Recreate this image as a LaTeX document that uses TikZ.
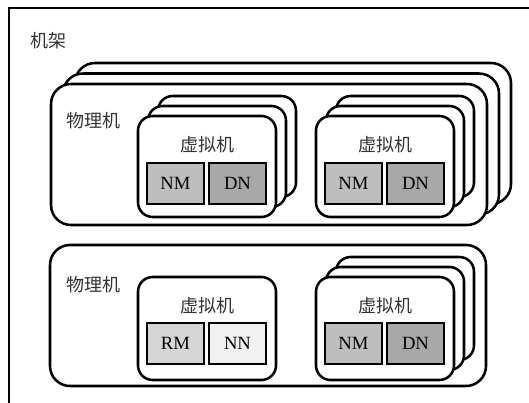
\documentclass[tikz,border=0pt]{standalone}
\usepackage{fontspec}
\setmainfont{Liberation Serif}
\newfontfamily\cjk{Noto Sans CJK SC}
\usetikzlibrary{positioning}
\definecolor{nmgray}{RGB}{190,190,190}
\definecolor{dngray}{RGB}{168,168,168}
\definecolor{rmgray}{RGB}{214,214,214}
\definecolor{nngray}{RGB}{241,241,241}
\tikzset{
  pmlayer/.style={draw,fill=white,line width=1.9pt,rounded corners=15pt},
  vmlayer/.style={draw,fill=white,line width=1.9pt,rounded corners=11pt},
  rolebox/.style={draw,line width=2pt,minimum width=42.75pt,minimum height=30.75pt,
    inner sep=0pt,font=\fontsize{14}{16}\selectfont},
  cjklabel/.style={font=\cjk\fontsize{13.5}{16}\selectfont,text=black!80,inner sep=0pt}
}

\begin{document}
\begin{tikzpicture}[x=0.75pt,y=-0.75pt]
        \clip (0,0) rectangle (529,403);
        % rack
        \draw[line width=1.7pt] (9,8) rectangle (560,440);
        \node[cjklabel,anchor=west] (rack) at (30,41) {机架};
        % upper physical machines (stack of three)
        \draw[pmlayer] (75,63) rectangle (511,204);
        \draw[pmlayer] (63,73.5) rectangle (499,214.5);
        \draw[pmlayer] (51,84) rectangle (487,225);
        \node[cjklabel,anchor=west] (pmA) at (66,121) {物理机};
        % upper left virtual machines
        \draw[vmlayer] (158,96) rectangle (296,197);
        \draw[vmlayer] (148,106) rectangle (286,207);
        \draw[vmlayer] (138,116) rectangle (276,217);
        \node[cjklabel] (vmA) at (207,145) {虚拟机};
        \node[rolebox,fill=nmgray] (nmA) at (175.5,183.5) {NM};
        \node[rolebox,fill=dngray] (dnA) at (237.5,183.5) {DN};
        % upper right virtual machines
        \draw[vmlayer] (336,96) rectangle (474,197);
        \draw[vmlayer] (326,106) rectangle (464,207);
        \draw[vmlayer] (316,116) rectangle (454,217);
        \node[cjklabel] (vmB) at (385,145) {虚拟机};
        \node[rolebox,fill=nmgray] (nmB) at (353.5,183.5) {NM};
        \node[rolebox,fill=dngray] (dnB) at (415.5,183.5) {DN};
        % lower physical machine
        \draw[pmlayer] (50,245) rectangle (486,386);
        \node[cjklabel,anchor=west] (pmB) at (66,285) {物理机};
        % lower left virtual machine
        \draw[vmlayer] (138,277) rectangle (276,380);
        \node[cjklabel] (vmC) at (207,306) {虚拟机};
        \node[rolebox,fill=rmgray] (rm) at (175.5,343.5) {RM};
        \node[rolebox,fill=nngray] (nn) at (237.5,343.5) {NN};
        % lower right virtual machines
        \draw[vmlayer] (336,257) rectangle (474,360);
        \draw[vmlayer] (326,267) rectangle (464,370);
        \draw[vmlayer] (316,277) rectangle (454,380);
        \node[cjklabel] (vmD) at (385,306) {虚拟机};
        \node[rolebox,fill=nmgray] (nmD) at (353.5,343.5) {NM};
        \node[rolebox,fill=dngray] (dnD) at (415.5,343.5) {DN};
      \end{tikzpicture}
\end{document}
